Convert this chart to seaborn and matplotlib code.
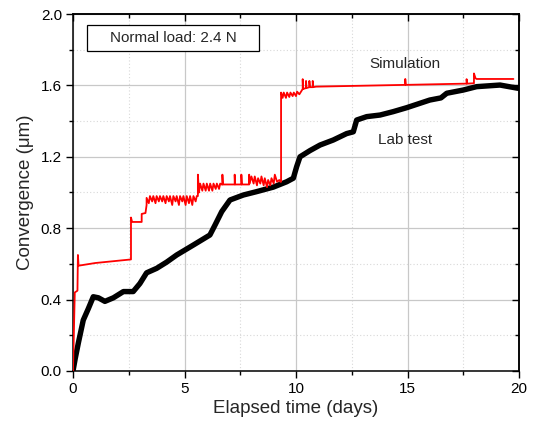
import matplotlib
matplotlib.use("Agg")
import matplotlib.pyplot as plt
from matplotlib.ticker import MultipleLocator
from matplotlib.patches import Rectangle
import seaborn as sns
import pandas as pd

# ---- data ----
lab_t = [0, 0.1, 0.24, 0.46, 0.69, 0.91, 1.14, 1.43, 1.81, 2.26, 2.7, 3.0, 3.3,
         3.75, 4.2, 4.65, 5.4, 6.14, 6.37, 6.67, 7.04, 7.64, 8.24, 8.98, 9.58,
         9.88, 10.03, 10.18, 10.63, 11.08, 11.67, 12.27, 12.57, 12.72, 13.17,
         13.77, 14.36, 14.96, 16.0, 16.5, 16.76, 17.5, 18.1, 19.15, 19.95]
lab_v = [0, 0.07, 0.157, 0.285, 0.35, 0.416, 0.41, 0.39, 0.41, 0.445, 0.445,
         0.49, 0.55, 0.575, 0.61, 0.65, 0.706, 0.762, 0.818, 0.893, 0.958, 0.986,
         1.005, 1.03, 1.06, 1.08, 1.145, 1.2, 1.235, 1.266, 1.294, 1.33, 1.34,
         1.406, 1.425, 1.434, 1.453, 1.475, 1.518, 1.53, 1.556, 1.574, 1.593,
         1.602, 1.584]

sim_t = [0, 0.08, 0.2, 0.22, 0.25, 1.0, 2.6, 2.6, 2.65, 3.08, 3.08, 3.25,
         3.3, 3.3, 3.4, 3.45, 3.55, 3.6, 3.7, 3.75, 3.85, 3.9, 4.0, 4.05, 4.15,
         4.2, 4.3, 4.35, 4.45, 4.5, 4.6, 4.65, 4.75, 4.8, 4.9, 4.95, 5.05, 5.1,
         5.2, 5.25, 5.35, 5.4, 5.5, 5.55,
         5.6, 5.6, 5.65, 5.7, 5.8, 5.85, 5.95, 6.0, 6.1, 6.15, 6.25, 6.3, 6.4,
         6.45, 6.55, 6.6, 6.65,
         6.7, 6.7, 6.72, 7.25, 7.25, 7.27, 7.55, 7.55, 7.57, 7.9, 7.9, 7.92,
         8.0, 8.1, 8.15, 8.25, 8.3, 8.4, 8.45, 8.55, 8.6, 8.7, 8.75, 8.85, 8.9,
         9.0, 9.05, 9.15, 9.25, 9.3,
         9.33, 9.33, 9.4, 9.45, 9.55, 9.6, 9.7, 9.75, 9.85, 9.9, 10.0, 10.05,
         10.15, 10.25, 10.3, 10.3, 10.32, 10.45, 10.45, 10.47, 10.6, 10.6, 10.62,
         10.75, 10.75, 10.77, 10.9, 14.9, 14.9, 14.92, 17.65, 17.65, 17.67,
         17.98, 17.98, 18.05, 18.1, 19.75]
sim_v = [0, 0.44, 0.45, 0.65, 0.59, 0.605, 0.625, 0.86, 0.835, 0.835, 0.88, 0.885,
         0.93, 0.97, 0.94, 0.98, 0.95, 0.98, 0.94, 0.98, 0.95, 0.98, 0.95, 0.98,
         0.94, 0.98, 0.95, 0.98, 0.93, 0.98, 0.95, 0.98, 0.93, 0.98, 0.95, 0.98,
         0.93, 0.98, 0.94, 0.98, 0.93, 0.98, 0.95, 0.98,
         0.98, 1.1, 1.0, 1.05, 1.01, 1.05, 1.01, 1.05, 1.01, 1.05, 1.01, 1.05,
         1.02, 1.05, 1.02, 1.05, 1.045,
         1.045, 1.1, 1.045, 1.045, 1.1, 1.045, 1.045, 1.1, 1.045, 1.045, 1.1, 1.05,
         1.09, 1.05, 1.09, 1.04, 1.08, 1.05, 1.09, 1.04, 1.08, 1.03, 1.07, 1.04,
         1.08, 1.05, 1.1, 1.06, 1.07, 1.06,
         1.06, 1.56, 1.53, 1.56, 1.53, 1.56, 1.535, 1.56, 1.54, 1.56, 1.54, 1.565,
         1.55, 1.57, 1.58, 1.635, 1.58, 1.585, 1.625, 1.585, 1.59, 1.625, 1.59,
         1.59, 1.625, 1.59, 1.593, 1.603, 1.636, 1.603, 1.61, 1.635, 1.61,
         1.612, 1.667, 1.64, 1.636, 1.636]

x_ticks = [0, 5, 10, 15, 20]
y_ticks = [0.0, 0.4, 0.8, 1.2, 1.6, 2.0]

sns.set_theme(style="ticks")
plt.rcParams["font.family"] = ["Liberation Sans", "DejaVu Sans"]

fig = plt.figure(figsize=(5.34, 4.29), dpi=100)
ax = fig.add_axes([73 / 534, 1 - 371 / 429, 446 / 534, 357 / 429])

lab_df = pd.DataFrame({"t": lab_t, "v": lab_v})
sim_df = pd.DataFrame({"t": sim_t, "v": sim_v})

sns.lineplot(data=lab_df, x="t", y="v", sort=False, estimator=None,
             color="black", linewidth=3.9, ax=ax, zorder=3)
sns.lineplot(data=sim_df, x="t", y="v", sort=False, estimator=None,
             color="#ff0000", linewidth=1.3, ax=ax, zorder=4)

ax.set_xlim(0, 20)
ax.set_ylim(0, 2.0)
ax.set_xticks(x_ticks)
ax.set_yticks(y_ticks)
ax.set_yticklabels([f"{v:.1f}" for v in y_ticks])
ax.xaxis.set_minor_locator(MultipleLocator(2.5))
ax.yaxis.set_minor_locator(MultipleLocator(0.2))

ax.grid(which="major", color="#c8c8c8", linewidth=0.9, linestyle="-")
ax.grid(which="minor", color="#d8d8d8", linewidth=0.8, linestyle=(0, (1, 2)))
ax.set_axisbelow(True)

for s in ax.spines.values():
    s.set_linewidth(1.1)
    s.set_color("black")

ax.tick_params(which="major", direction="out", length=5, width=1.0,
               labelsize=11, colors="black", pad=3)
ax.tick_params(which="minor", direction="out", length=3, width=1.0, colors="black")

# top/right ticks pointing in
top = ax.secondary_xaxis("top")
top.set_zorder(10)
top.set_xticks(x_ticks)
top.xaxis.set_minor_locator(MultipleLocator(2.5))
top.tick_params(which="major", direction="in", length=5, width=1.0,
                labeltop=False, color="black")
top.tick_params(which="minor", direction="in", length=3, width=1.0, color="black")
top.spines["top"].set_linewidth(1.1)
top.spines["top"].set_color("black")
right = ax.secondary_yaxis("right")
right.set_zorder(10)
right.set_yticks(y_ticks)
right.yaxis.set_minor_locator(MultipleLocator(0.2))
right.tick_params(which="major", direction="in", length=5, width=1.0,
                  labelright=False, color="black")
right.tick_params(which="minor", direction="in", length=3, width=1.0, color="black")
right.spines["right"].set_linewidth(1.1)
right.spines["right"].set_color("black")

ax.set_xlabel("Elapsed time (days)", fontsize=13.5, labelpad=3)
ax.set_ylabel("Convergence (μm)", fontsize=13.5, labelpad=5)

ax.text(14.9, 1.72, "Simulation", fontsize=11, ha="center", va="center")
ax.text(14.9, 1.295, "Lab test", fontsize=11, ha="center", va="center")

ax.add_patch(Rectangle((14 / 446, 1 - 37 / 357), 172 / 446, 26 / 357,
                       transform=ax.transAxes, facecolor="white",
                       edgecolor="black", linewidth=0.9, zorder=5))
ax.text(100 / 446, 1 - 24 / 357, "Normal load: 2.4 N", transform=ax.transAxes,
        fontsize=11, ha="center", va="center", zorder=6)

fig.savefig("out.png", dpi=100)
